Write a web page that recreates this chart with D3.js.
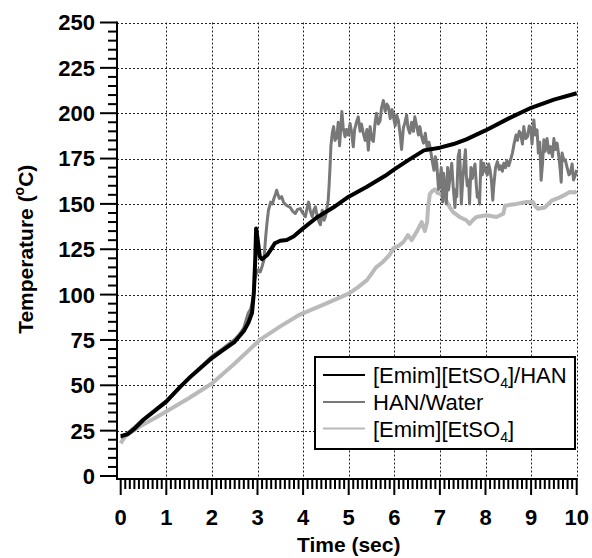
<!DOCTYPE html>
<html><head><meta charset="utf-8">
<script src="https://cdn.jsdelivr.net/npm/d3@7"></script>
<style>body{margin:0;background:#fff} svg{display:block} text{font-family:"Liberation Sans",Arial,Helvetica,sans-serif}</style>
</head><body><svg id="c" width="592" height="558"></svg>
<script>
const xTicks=[0,1,2,3,4,5,6,7,8,9,10];
const yTicks=[0,25,50,75,100,125,150,175,200,225,250];
const seriesNames=["[Emim][EtSO4]/HAN","HAN/Water","[Emim][EtSO4]"];
const seriesColors=["#000000","#787878","#bababa"];

const blackT=[0,0.15,0.3,0.5,0.75,1.0,1.3,1.5,1.75,2.0,2.25,2.5,2.7,2.8,2.88,2.92,2.95,2.97,3.0,3.05,3.1,3.22,3.31,3.38,3.5,3.64,3.79,4.0,4.3,4.66,5.0,5.4,5.8,6.0,6.3,6.65,7.0,7.3,7.58,8.0,8.5,9.0,9.5,10];
const blackV=[22,23,26,31,36,41,49,54,59.5,65,69.5,74,79.9,84.5,90,101,119,136.5,131,121,119.5,122,125.5,128.3,129.7,130.1,132,136.5,142.5,148,154,159.5,165.5,169,174,179.5,181,183,185.6,190.5,197,203,207.5,211];

const hanT=[0,0.1,0.3,0.5,0.75,1.0,1.25,1.5,1.75,2.0,2.25,2.5,2.6,2.7,2.75,2.8,2.85,2.88,2.92,2.94,2.98,3.02,3.06,3.09,3.14,3.18,3.21,3.24,3.29,3.33,3.36,3.39,3.42,3.45,3.48,3.53,3.57,3.6,3.65,3.72,3.77,3.83,3.88,3.94,3.99,4.05,4.09,4.12,4.16,4.2,4.24,4.27,4.31,4.35,4.38,4.42,4.46,4.49,4.52,4.55,4.57,4.59,4.61,4.64,4.67,4.7,4.74,4.77,4.8,4.83,4.85,4.88,4.92,4.95,4.99,5.03,5.06,5.1,5.13,5.17,5.21,5.25,5.28,5.32,5.36,5.4,5.43,5.47,5.5,5.54,5.58,5.61,5.65,5.69,5.72,5.76,5.8,5.84,5.87,5.91,5.95,5.98,6.02,6.05,6.09,6.13,6.16,6.2,6.23,6.27,6.3,6.34,6.38,6.42,6.45,6.49,6.53,6.56,6.6,6.64,6.68,6.72,6.76,6.79,6.83,6.87,6.9,6.93,6.97,7.0,7.03,7.06,7.08,7.11,7.14,7.17,7.19,7.22,7.26,7.29,7.33,7.35,7.37,7.4,7.43,7.45,7.47,7.5,7.53,7.56,7.58,7.6,7.63,7.65,7.68,7.71,7.74,7.77,7.8,7.82,7.85,7.87,7.9,7.93,7.96,8.0,8.04,8.07,8.1,8.13,8.16,8.18,8.22,8.26,8.3,8.33,8.37,8.4,8.44,8.47,8.51,8.55,8.59,8.63,8.67,8.7,8.74,8.77,8.81,8.84,8.88,8.92,8.96,8.99,9.02,9.06,9.09,9.13,9.16,9.19,9.22,9.25,9.28,9.31,9.35,9.39,9.43,9.47,9.5,9.53,9.57,9.61,9.64,9.66,9.68,9.72,9.75,9.79,9.83,9.86,9.9,9.93,9.97,10];
const hanV=[21,22.5,27,31.5,36.5,41.5,48,54,60,66,70.5,75.3,78,81.7,86,90,92,95.4,101,108,112,113.7,112.5,114.6,119,132,140,146.5,151,150,153,155,157.5,155,153,154,151,150,149,148,146,144.7,147,147.4,145,143,148,151,146,143,147,148.4,143,140,138.5,146.5,141,143,147,152,160,170,182,189,192.6,185,187,195,182,193,201,192,187,191,188,194.4,190,181.5,191,195,198,190,194,189,185,191,179.6,192.6,186,184.4,195,200,194,196,203,207,201,205,203.7,197,202,198,193,199,196,188,180,192,194.5,199,192,189,195,190,198,193,188,192.6,187,183.5,189,181,184,180.7,174,168.5,176,172.4,158,163,170,151,166.9,160,150,170,157.7,164,172.4,160,148,158,154,176,179.6,166.9,150,163,172,179.8,166,160,163.2,150,170,164,168.75,172,160,153.7,155.9,150,174,166,172.4,168,166,172,168.75,163,152,159.6,170,173.3,169,171,168,172.4,170,174,171,174.3,178,183.5,188,185,190,189,183,192.6,186,187,193,192,183,196.3,188,190.8,178,184,163,172,185.3,179,186,178,181.6,176,186,180,183.5,176,168.5,162,178,174,174.3,170,166,166.9,172,163.2,166,168.8];

const emimT=[0,0.1,0.4,0.8,1.0,1.5,2.0,2.5,3.05,3.5,3.93,4.5,5.0,5.2,5.4,5.6,5.75,5.9,5.98,6.1,6.2,6.3,6.38,6.49,6.6,6.67,6.72,6.74,6.78,6.83,6.89,6.95,7.03,7.14,7.22,7.29,7.43,7.58,7.65,7.72,7.8,8.02,8.24,8.39,8.43,8.55,8.68,8.9,9.04,9.1,9.15,9.3,9.45,9.63,9.77,9.85,9.96,10];
const emimV=[18,22,27,32.6,35.5,43,51,62,75,82.5,89,95,100.5,104,108,115,118,122,125.5,127,129,132.8,130,134.6,140,135,140,148,155.4,157,158,156,155.4,151.8,148,145.5,142.8,141,139,141,142.8,143.7,142.8,144.6,149,149.5,150,151,151,148.5,147.3,148,151.8,153.6,155.4,156.5,156.3,157];

const svg=d3.select("#c");
const x=d3.scaleLinear().domain([0,10]).range([120.7,576.7]);
const y=d3.scaleLinear().domain([0,250]).range([476,22.5]);
const axX=117, axY=479;

// grid
const grid=svg.append("g").attr("stroke","#222").attr("stroke-width",1).attr("stroke-dasharray","2,2");
grid.selectAll("line.h").data(yTicks.filter(d=>d>0)).join("line").attr("class","h")
  .attr("x1",axX).attr("x2",x(10)).attr("y1",d=>Math.round(y(d))+0.5).attr("y2",d=>Math.round(y(d))+0.5);
grid.selectAll("line.v").data(xTicks.filter(d=>d>0)).join("line").attr("class","v")
  .attr("y1",y(250)).attr("y2",axY).attr("x1",d=>Math.round(x(d))+0.5).attr("x2",d=>Math.round(x(d))+0.5);

// series
const line=d3.line().x(d=>x(d[0])).y(d=>y(d[1]));
const series=[
  {t:emimT,v:emimV,c:seriesColors[2],w:4},
  {t:hanT,v:hanV,c:seriesColors[1],w:3},
  {t:blackT,v:blackV,c:seriesColors[0],w:4}
];
series.forEach(s=>{
  svg.append("path").datum(s.t.map((t,i)=>[t,s.v[i]]))
    .attr("d",line).attr("fill","none").attr("stroke",s.c).attr("stroke-width",s.w)
    .attr("stroke-linejoin","round");
});

// axes
const yMinor=d3.range(0,251,5).filter(d=>d%25!==0);
const xMinor=d3.range(0,100,1).map(d=>d/10).filter(d=>Math.abs(d-Math.round(d))>1e-6);
const ax=svg.append("g").attr("stroke","#000").attr("stroke-width",2);
ax.append("line").attr("x1",axX).attr("x2",axX).attr("y1",y(250)-1).attr("y2",axY+1);
ax.append("line").attr("x1",axX-1).attr("x2",x(10)+1).attr("y1",axY).attr("y2",axY);
ax.selectAll("line.ym").data(yTicks).join("line").attr("class","ym")
  .attr("x1",axX-17).attr("x2",axX).attr("y1",d=>y(d)).attr("y2",d=>y(d));
ax.selectAll("line.yn").data(yMinor).join("line").attr("class","yn")
  .attr("x1",axX-9).attr("x2",axX).attr("y1",d=>y(d)).attr("y2",d=>y(d));
ax.selectAll("line.xm").data(xTicks).join("line").attr("class","xm")
  .attr("y1",axY).attr("y2",axY+16).attr("x1",d=>x(d)).attr("x2",d=>x(d));
ax.selectAll("line.xn").data(xMinor).join("line").attr("class","xn")
  .attr("y1",axY).attr("y2",axY+10).attr("x1",d=>x(d)).attr("x2",d=>x(d));

svg.append("g").selectAll("text").data(yTicks).join("text")
  .attr("x",axX-22).attr("y",d=>y(d)).attr("dy","0.36em").attr("text-anchor","end")
  .attr("font-size",22).attr("font-weight","bold").text(d=>d);
svg.append("g").selectAll("text").data(xTicks).join("text")
  .attr("x",d=>x(d)).attr("y",525).attr("text-anchor","middle")
  .attr("font-size",22).attr("font-weight","bold").text(d=>d);

svg.append("text").attr("x",x(5)).attr("y",552).attr("text-anchor","middle")
  .attr("font-size",21).attr("font-weight","bold").text("Time (sec)");
const yl=svg.append("text").attr("transform",`translate(33,${(y(0)+y(250))/2}) rotate(-90)`)
  .attr("text-anchor","middle").attr("font-size",21).attr("font-weight","bold");
yl.append("tspan").text("Temperature (");
yl.append("tspan").attr("font-size",14).attr("dy",-9).text("o");
yl.append("tspan").attr("dy",9).text("C)");

// legend
const lg=svg.append("g");
lg.append("rect").attr("x",315).attr("y",357).attr("width",260).attr("height",92)
  .attr("fill","#fff").attr("stroke","#000").attr("stroke-width",2);
const ly=[375,402,428.5];
seriesNames.forEach((n,i)=>{
  lg.append("line").attr("x1",323).attr("x2",365).attr("y1",ly[i]).attr("y2",ly[i])
    .attr("stroke",seriesColors[i]).attr("stroke-width",2);
  const t=lg.append("text").attr("x",373).attr("y",ly[i]+8).attr("font-size",22);
  const m=n.match(/^(.*SO)4(.*)$/);
  if(m){
    t.append("tspan").text(m[1]);
    t.append("tspan").attr("font-size",14).attr("dy",5).text("4");
    t.append("tspan").attr("dy",-5).text(m[2]);
  } else t.text(n);
});
</script></body></html>
